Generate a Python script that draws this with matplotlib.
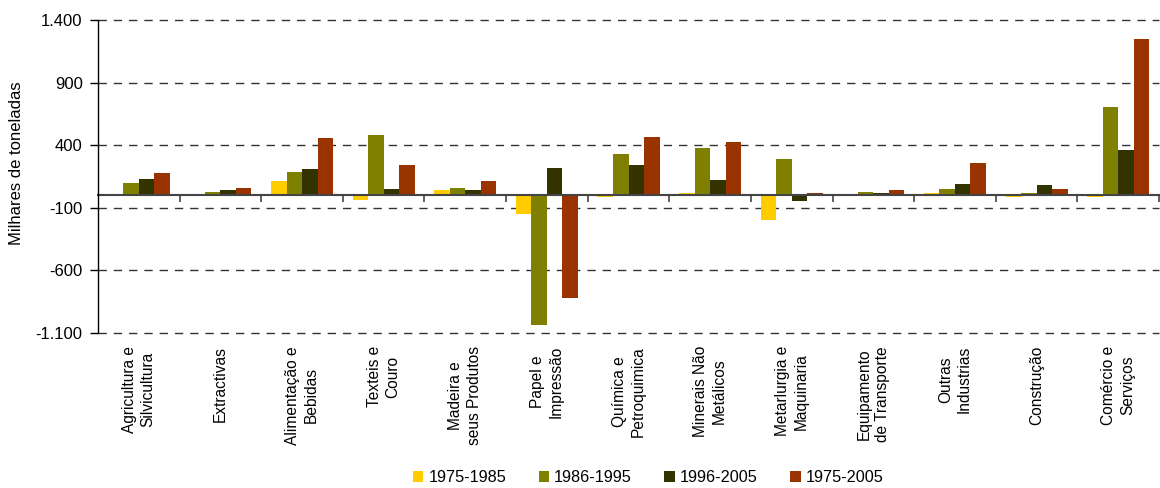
import matplotlib
matplotlib.use("Agg")
import matplotlib.pyplot as plt
import matplotlib.transforms as mtransforms
from matplotlib.ticker import FuncFormatter
import numpy as np

plt.rcParams['font.family'] = ['Liberation Sans', 'DejaVu Sans']

categories = [
    "Agricultura e\nSilvicultura", "Extractivas", "Alimentação e\nBebidas",
    "Texteis e\nCouro", "Madeira e\nseus Produtos", "Papel e\nImpressão",
    "Química e\nPetroquimica", "Minerais Não\nMetálicos", "Metarlurgia e\nMaquinaria",
    "Equipamento\nde Transporte", "Outras\nIndustrias", "Construção",
    "Comércio e\nServiços",
]
series_names = ["1975-1985", "1986-1995", "1996-2005", "1975-2005"]
v_1975_1985 = [0, 0, 114, -35, 42, -150, -14, 18, -198, 0, 18, -14, -10]
v_1986_1995 = [98, 26, 186, 482, 58, -1038, 330, 378, 290, 26, 50, 18, 706]
v_1996_2005 = [130, 42, 210, 50, 42, 218, 242, 122, -46, 18, 90, 82, 362]
v_1975_2005 = [178, 58, 458, 242, 114, -822, 466, 426, 18, 42, 258, 50, 1250]
series = [v_1975_1985, v_1986_1995, v_1996_2005, v_1975_2005]
colors = ["#FFCC00", "#808000", "#333300", "#993300"]
yticks = [1400, 900, 400, -100, -600, -1100]

fig = plt.figure(figsize=(11.6, 4.88), dpi=100)
ax = fig.add_axes([98/1160, 1-333/488, 1061/1160, 313/488])

n = len(categories)
x = np.arange(n)
bw = 0.19
handles = []
for i, (vals, c, name) in enumerate(zip(series, colors, series_names)):
    h = ax.bar(x + (i - 1.5) * bw, vals, width=bw, color=c, label=name, zorder=3)
    handles.append(h)

ax.set_xlim(-0.5, n - 0.5)
ax.set_ylim(-1100, 1400)
ax.set_yticks(yticks)
ax.yaxis.set_major_formatter(FuncFormatter(lambda v, p: f"{int(v):,}".replace(",", ".")))
for yv in yticks:
    ax.axhline(yv, color="#333333", lw=1.0, dashes=(6, 5), zorder=1, clip_on=False)

for s in ["top", "right"]:
    ax.spines[s].set_visible(False)
ax.spines["left"].set_color("black")
ax.spines["left"].set_linewidth(1.0)
ax.spines["left"].set_zorder(5)
ax.spines["bottom"].set_position(("data", 0))
ax.spines["bottom"].set_color("#444444")
ax.spines["bottom"].set_linewidth(1.5)
ax.spines["bottom"].set_zorder(4)

ax.set_xticks(np.arange(n) + 0.5)
ax.set_xticklabels([])
ax.tick_params(axis="x", direction="out", length=5, width=1.2, color="#444444")
ax.tick_params(axis="y", direction="out", length=6, width=1.0, labelsize=12, pad=5)

trans = mtransforms.blended_transform_factory(ax.transData, fig.transFigure)
for i, lab in enumerate(categories):
    ax.text(i, 1 - 346/488, lab, transform=trans, rotation=90, ha="center", va="top",
            multialignment="center", fontsize=11.2, linespacing=1.3)

fig.text(17/1160, 1 - 163/488, "Milhares de toneladas", rotation=90, ha="center", va="center",
         fontsize=12)

fig.legend(handles=handles, labels=series_names, loc="center", bbox_to_anchor=(648/1160, 1 - 478/488),
           ncol=4, frameon=False, fontsize=11.7, handlelength=0.65, handleheight=0.65,
           handletextpad=0.3, columnspacing=2.0)

fig.savefig("out.png", dpi=100)
